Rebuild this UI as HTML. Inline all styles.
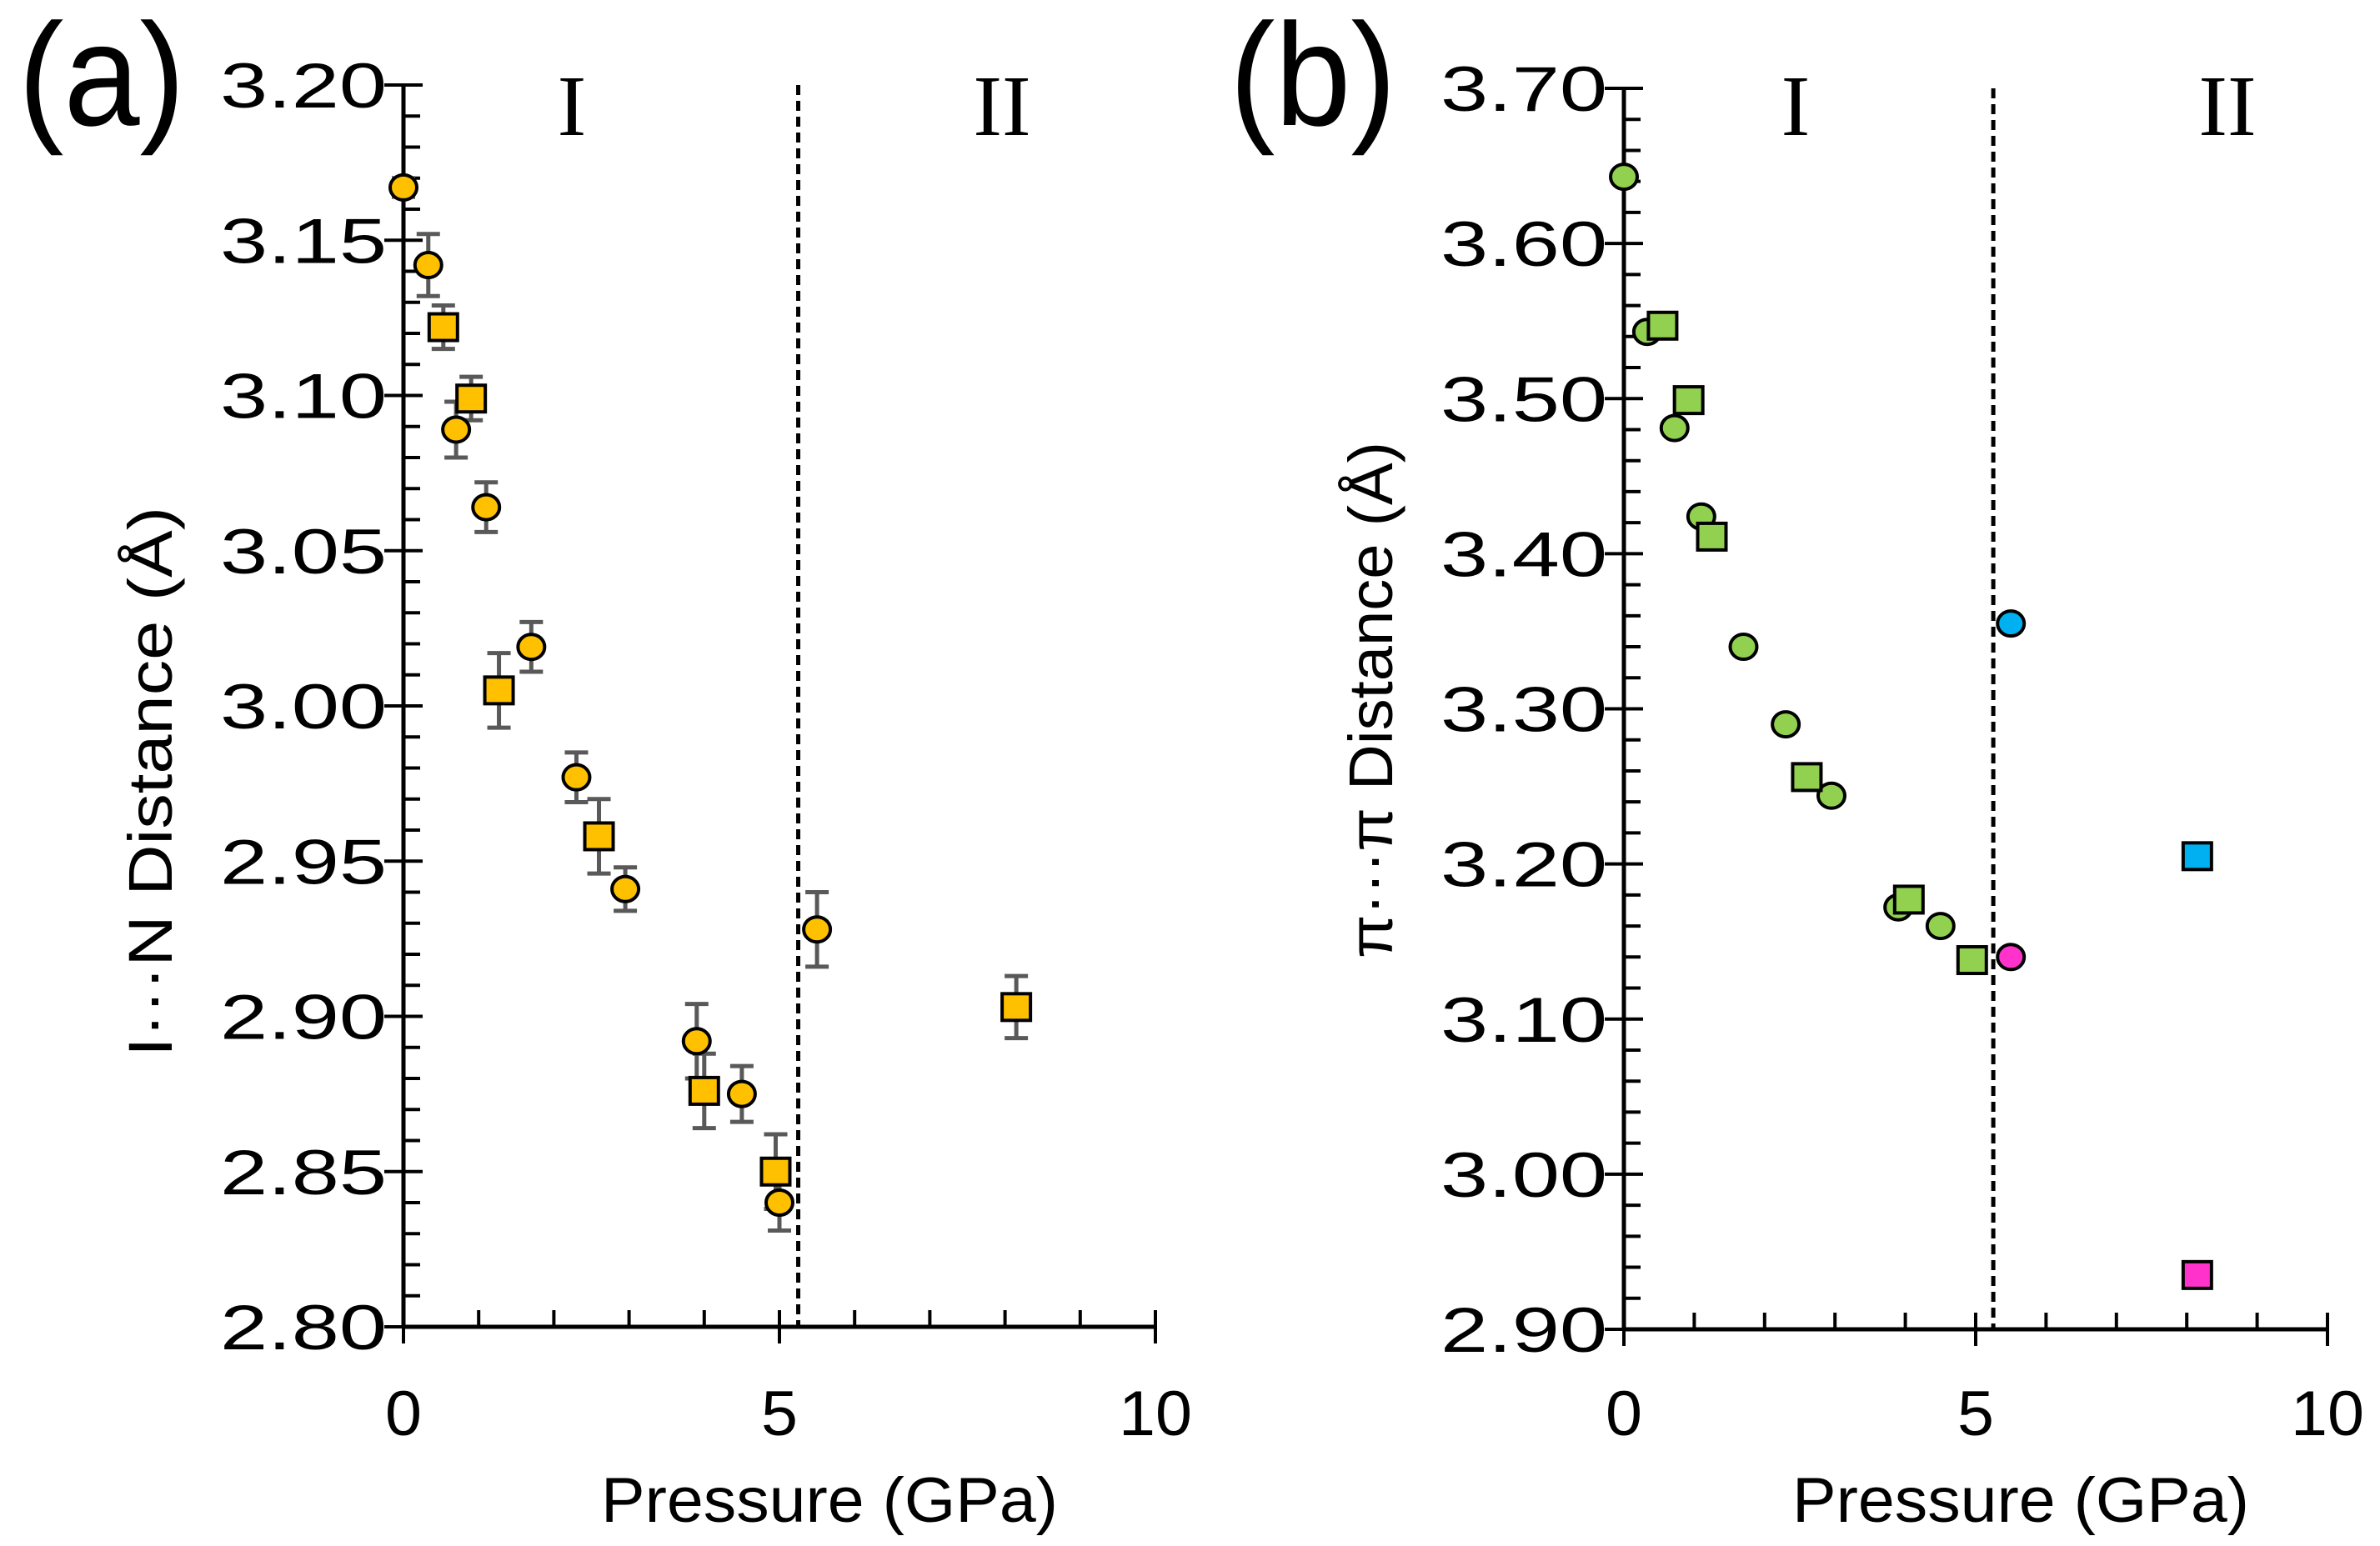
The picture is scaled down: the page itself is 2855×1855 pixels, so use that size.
<!DOCTYPE html>
<html><head><meta charset="utf-8"><style>
html,body{margin:0;padding:0;background:#fff;}
svg{display:block;font-family:"Liberation Sans",sans-serif;}
</style></head><body>
<svg id="chart" width="2855" height="1855" viewBox="0 0 2855 1855" xmlns="http://www.w3.org/2000/svg"></svg>
<script>
// Panel (a): I...N distance
const aCircX = [0, 0.33, 0.7, 1.1, 1.7, 2.3, 2.95, 3.9, 4.5, 5.0, 5.5];
const aCircY = [3.167, 3.142, 3.089, 3.064, 3.019, 2.977, 2.941, 2.892, 2.875, 2.840, 2.928];
const aCircErr = [0.003, 0.010, 0.009, 0.008, 0.008, 0.008, 0.007, 0.012, 0.009, 0.009, 0.012];
const aSqX = [0.53, 0.9, 1.27, 2.6, 4.0, 4.95, 8.15];
const aSqY = [3.122, 3.099, 3.005, 2.958, 2.876, 2.850, 2.903];
const aSqErr = [0.007, 0.007, 0.012, 0.012, 0.012, 0.012, 0.010];
const aYTicks = ["3.20","3.15","3.10","3.05","3.00","2.95","2.90","2.85","2.80"];
// Panel (b): pi...pi distance
const bGreenCircX = [0, 0.33, 0.72, 1.1, 1.7, 2.3, 2.95, 3.9, 4.5];
const bGreenCircY = [3.643, 3.543, 3.481, 3.424, 3.340, 3.290, 3.244, 3.172, 3.160];
const bGreenSqX = [0.55, 0.92, 1.25, 2.6, 4.05, 4.95];
const bGreenSqY = [3.547, 3.499, 3.411, 3.256, 3.177, 3.138];
const bBlueCircX = [5.5]; const bBlueCircY = [3.355];
const bBlueSqX = [8.15]; const bBlueSqY = [3.205];
const bPinkCircX = [5.5]; const bPinkCircY = [3.140];
const bPinkSqX = [8.15]; const bPinkSqY = [2.935];
const bYTicks = ["3.70","3.60","3.50","3.40","3.30","3.20","3.10","3.00","2.90"];
const xTicks = ["0","5","10"];
const transitionP = 5.25;

const NS = "http://www.w3.org/2000/svg";
const svg = document.getElementById("chart");
function mk(tag, attrs, parent) {
  const e = document.createElementNS(NS, tag);
  for (const k in attrs) e.setAttribute(k, attrs[k]);
  (parent || svg).appendChild(e);
  return e;
}

function panel(cfg) {
  const g = mk("g", {});
  
  
  const sx = v => cfg.x0 + (v - 0) / 10 * (cfg.x1 - cfg.x0);
  const sy = v => cfg.yb + (v - cfg.ymin) / (cfg.ymax - cfg.ymin) * (cfg.yt - cfg.yb);
  const yAxis = mk("line", {x1: cfg.x0, y1: cfg.yt, x2: cfg.x0, y2: cfg.yb, stroke: "#000", "stroke-width": 5}, g);
  
  
  const xAxis = mk("line", {x1: cfg.x0, y1: cfg.yb, x2: cfg.x1, y2: cfg.yb, stroke: "#000", "stroke-width": 5}, g);
  
  
  const nMinor = Math.round((cfg.ymax - cfg.ymin) / cfg.minor);
  for (let i = 0; i <= nMinor; i++) {
    const v = cfg.ymin + i * cfg.minor;
    const y = sy(v);
    const major = i % 5 === 0;
    const t = mk("line", {x1: major ? cfg.x0 - 23 : cfg.x0, y1: y, x2: cfg.x0 + (major ? 23 : 20), y2: y, stroke: "#000", "stroke-width": 4}, g);
    
    
  }
  cfg.yTicks.forEach(lbl => {
    const v = parseFloat(lbl);
    const t = mk("text", {x: cfg.x0 - 200 - 20, y: sy(v) + 27, "font-size": 76, fill: "#000", textLength: 200, lengthAdjust: "spacingAndGlyphs"}, g);
    t.textContent = lbl;
    
    
  });
  for (let v = 0; v <= 10; v++) {
    const x = sx(v);
    const major = v % 5 === 0;
    const t = mk("line", {x1: x, y1: cfg.yb - 20, x2: x, y2: cfg.yb + (major ? 20 : 0), stroke: "#000", "stroke-width": 4}, g);
    
    
  }
  xTicks.forEach(lbl => {
    const t = mk("text", {x: sx(parseFloat(lbl)), y: 1722, "text-anchor": "middle", "font-size": 76, fill: "#000", textLength: lbl.length * 44, lengthAdjust: "spacingAndGlyphs"}, g);
    t.textContent = lbl;
    
    
  });
  const xt = mk("text", {x: cfg.xtitleX - 274, y: 1826, "font-size": 76, fill: "#000", textLength: 548, lengthAdjust: "spacingAndGlyphs"}, g);
  xt.textContent = "Pressure (GPa)";
  
  
  const yt = mk("text", {x: 0, y: 0, "text-anchor": "middle", "font-size": 74, fill: "#000", textLength: cfg.ytitleLen, lengthAdjust: "spacingAndGlyphs", transform: `translate(${cfg.ytitleX},${cfg.ytitleY}) rotate(-90)`}, g);
  yt.textContent = cfg.ytitle;
  
  
  const pl = mk("text", {x: cfg.letterX, y: 150, "font-size": 175, fill: "#000", textLength: 200, lengthAdjust: "spacingAndGlyphs"}, g);
  pl.textContent = cfg.letter;
  
  
  const dl = mk("line", {x1: sx(transitionP), y1: cfg.yt, x2: sx(transitionP), y2: cfg.yb, stroke: "#000", "stroke-width": 5, "stroke-dasharray": "12 7"}, g);
  
  
  const p1 = mk("text", {x: cfg.romI, y: 162, "text-anchor": "middle", "font-size": 104, "font-family": "Liberation Serif, serif", fill: "#000"}, g);
  p1.textContent = "I";
  
  
  const p2 = mk("text", {x: cfg.romII, y: 162, "text-anchor": "middle", "font-size": 104, "font-family": "Liberation Serif, serif", fill: "#000"}, g);
  p2.textContent = "II";
  
  
  return {g, sx, sy};
}

function errBar(p, x, y, e) {
  const X = p.sx(x), Y1 = p.sy(y - e), Y2 = p.sy(y + e);
  const g = mk("g", {stroke: "#595959", "stroke-width": 5}, p.g);
  
  
  mk("line", {x1: X, y1: Y1, x2: X, y2: Y2}, g);
  mk("line", {x1: X - 14, y1: Y1, x2: X + 14, y2: Y1}, g);
  mk("line", {x1: X - 14, y1: Y2, x2: X + 14, y2: Y2}, g);
}
function circ(p, x, y, fill, name) {
  const c = mk("ellipse", {cx: p.sx(x), cy: p.sy(y), rx: 16, ry: 15, fill: fill, stroke: "#000", "stroke-width": 4}, p.g);
  
  
}
function sq(p, x, y, fill, name) {
  const r = mk("rect", {x: p.sx(x) - 17, y: p.sy(y) - 16, width: 34, height: 32, fill: fill, stroke: "#000", "stroke-width": 4}, p.g);
  
  
}

const pa = panel({name: "panel-a", x0: 484, x1: 1386, yt: 102, yb: 1592, ymin: 2.80, ymax: 3.20, minor: 0.01,
  yTicks: aYTicks, ytitle: "I\u00B7\u00B7\u00B7N Distance (\u00C5)", ytitleX: 206, ytitleY: 938, ytitleLen: 660,
  letter: "(a)", letterX: 22, xtitleX: 995, romI: 686, romII: 1202});
const orange = "#FFC000";
aCircX.forEach((x, i) => errBar(pa, x, aCircY[i], aCircErr[i]));
aSqX.forEach((x, i) => errBar(pa, x, aSqY[i], aSqErr[i]));
aCircX.forEach((x, i) => circ(pa, x, aCircY[i], orange, 'orange-circle-point'));
aSqX.forEach((x, i) => sq(pa, x, aSqY[i], orange, 'orange-square-point'));

const pb = panel({name: "panel-b", x0: 1948, x1: 2792, yt: 106, yb: 1595, ymin: 2.90, ymax: 3.70, minor: 0.02,
  yTicks: bYTicks, ytitle: "\u03C0\u00B7\u00B7\u00B7\u03C0 Distance (\u00C5)", ytitleX: 1670, ytitleY: 840, ytitleLen: 620,
  letter: "(b)", letterX: 1475, xtitleX: 2424, romI: 2154, romII: 2672});
bGreenCircX.forEach((x, i) => circ(pb, x, bGreenCircY[i], "#92D050", 'green-circle-point'));
bGreenSqX.forEach((x, i) => sq(pb, x, bGreenSqY[i], "#92D050", 'green-square-point'));
bBlueCircX.forEach((x, i) => circ(pb, x, bBlueCircY[i], "#00B0F0", 'blue-circle-point'));
bBlueSqX.forEach((x, i) => sq(pb, x, bBlueSqY[i], "#00B0F0", 'blue-square-point'));
bPinkCircX.forEach((x, i) => circ(pb, x, bPinkCircY[i], "#FF33CC", 'pink-circle-point'));
bPinkSqX.forEach((x, i) => sq(pb, x, bPinkSqY[i], "#FF33CC", 'pink-square-point'));
</script>
</body></html>
